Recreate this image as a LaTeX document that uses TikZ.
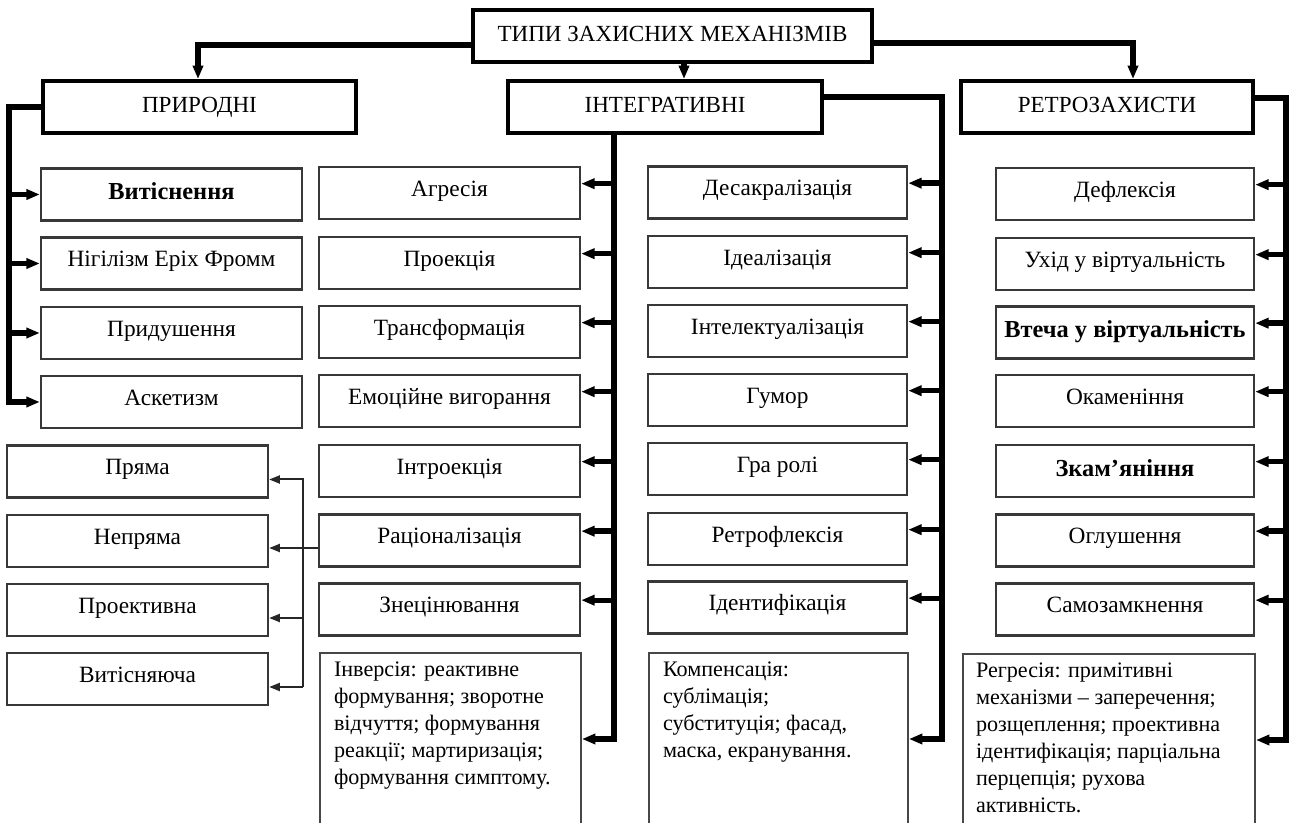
\documentclass[tikz,border=0pt]{standalone}
\usepackage{fontspec}
\setmainfont{Liberation Serif}
\usetikzlibrary{arrows.meta}
\newlength{\pu}\setlength{\pu}{0.75pt}
\tikzset{
  hdr/.style={draw=black, line width=3pt, minimum height=52\pu, inner sep=0pt,
    font=\fontsize{17.3}{19}\selectfont, text height=9pt, text depth=0.8pt},
  box/.style={draw=black!78, line width=1.8pt, minimum height=52\pu, inner sep=0pt,
    font=\fontsize{17.5}{19}\selectfont, text height=7.2pt, text depth=2pt},
  bbox/.style={box, font=\fontsize{18.3}{20}\selectfont\bfseries, text height=9.2pt, text depth=1pt},
  bigbox/.style={draw=black!72, line width=1.5pt, anchor=north west, inner xsep=14\pu, inner ysep=0pt,
    font=\fontsize{16.6}{20.25}\selectfont},
  trunk/.style={line width=4pt, black},
  arr/.style={trunk, -{Triangle[length=10pt,width=7.5pt]}},
  thinarr/.style={line width=1.5pt, black!85, -{Triangle[length=8pt,width=6pt]}},
}
\newcommand{\bigtext}[2]{\parbox[c][180\pu][t]{#1}{\vspace*{9\pu}\raggedright #2}}
\begin{document}
\begin{tikzpicture}[x=0.75pt,y=-0.75pt]
\useasboundingbox (0,0) rectangle (1293,823);
\clip (0,0) rectangle (1293,823);
% headers
\node[hdr, minimum width=399\pu] (top) at (672.5,36) {ТИПИ ЗАХИСНИХ МЕХАНІЗМІВ};
\node[hdr, minimum width=313\pu] (prir) at (199.5,107) {ПРИРОДНІ};
\node[hdr, minimum width=314\pu] (integ) at (665,107) {ІНТЕГРАТИВНІ};
\node[hdr, minimum width=292\pu] (retro) at (1107,107) {РЕТРОЗАХИСТИ};
% column 1
\begin{scope}[every node/.append style={minimum width=261\pu}]
\node[bbox] (vyt) at (171.5,194.5) {Витіснення};
\node[box] (nig) at (171.5,263.5) {Нігілізм Еріх Фромм};
\node[box] (prid) at (171.5,333) {Придушення};
\node[box] (asket) at (171.5,402) {Аскетизм};
% column 0
\node[box] (pryama) at (137.5,471.5) {Пряма};
\node[box] (nepr) at (137.5,541) {Непряма};
\node[box] (proekt) at (137.5,610) {Проективна};
\node[box] (vytisn) at (137.5,679) {Витісняюча};
% column 2
\node[box] (agr) at (449.5,193) {Агресія};
\node[box] (proek) at (449.5,263) {Проекція};
\node[box] (trans) at (449.5,332) {Трансформація};
\node[box] (emoc) at (449.5,401) {Емоційне вигорання};
\node[box] (intro) at (449.5,471) {Інтроекція};
\node[box] (rac) at (449.5,540.5) {Раціоналізація};
\node[box] (znec) at (449.5,609.5) {Знецінювання};
\end{scope}
% column 3
\begin{scope}[every node/.append style={minimum width=259\pu}]
\node[box] (desak) at (777.5,192.5) {Десакралізація};
\node[box] (ideal) at (777.5,262) {Ідеалізація};
\node[box] (intel) at (777.5,331) {Інтелектуалізація};
\node[box] (gumor) at (777.5,400) {Гумор};
\node[box] (gra) at (777.5,469) {Гра ролі};
\node[box] (retrof) at (777.5,539) {Ретрофлексія};
\node[box] (ident) at (777.5,607.5) {Ідентифікація};
\end{scope}
% column 4
\begin{scope}[every node/.append style={minimum width=258\pu}]
\node[box] (defl) at (1125,194) {Дефлексія};
\node[box] (uhid) at (1125,264) {Ухід у віртуальність};
\node[bbox] (vtecha) at (1125,332.5) {Втеча у віртуальність};
\node[box] (okam) at (1125,401) {Окаменіння};
\node[bbox] (zkam) at (1125,471) {Зкам’яніння};
\node[box] (ogl) at (1125,540.5) {Оглушення};
\node[box] (samoz) at (1125,609.5) {Самозамкнення};
\end{scope}
% big boxes
\node[bigbox] (inv) at (319,652) {\bigtext{233\pu}{Інверсія: реактивне\\ формування; зворотне\\ відчуття; формування\\ реакції; мартиризація;\\ формування симптому.}};
\node[bigbox] (komp) at (648,652) {\bigtext{231\pu}{Компенсація:\\ сублімація;\\ субституція; фасад,\\ маска, екранування.}};
\node[bigbox, inner xsep=13\pu] (regr) at (962,653) {\bigtext{266\pu}{Регресія: примітивні\\ механізми – заперечення;\\ розщеплення; проективна\\ ідентифікація; парціальна\\ перцепція; рухова\\ активність.}};
% trunk coordinates
\coordinate (tL) at (9,300);
\coordinate (tI) at (614,400);
\coordinate (tR) at (942,400);
\coordinate (tRR) at (1286,400);
\coordinate (tT) at (303,548);
% top connectors
\draw[arr] ([yshift=-6.75pt]top.west) -| (prir.north -| 198,0);
\draw[arr] ([yshift=-5.25pt]top.east) -| (retro.north -| 1133,0);
\draw[arr] (top.south -| 684,0) -- (integ.north -| 684,0);
% ПРИРОДНІ
\draw[arr] (prir.west) -| (tL) |- (asket.west);
\foreach \n in {vyt,nig,prid} \draw[arr] (\n.west -| tL) -- (\n.west);
% ІНТЕГРАТИВНІ left trunk
\draw[arr] (integ.south -| tI) |- ([yshift=3pt]inv.east);
\foreach \n in {agr,proek,trans,emoc,intro,rac,znec}
  \draw[arr] ([yshift=7pt]\n.east -| tI) -- ([yshift=7pt]\n.east);
% ІНТЕГРАТИВНІ right trunk
\draw[arr] ([yshift=7.5pt]integ.east) -| (tR) |- ([yshift=3pt]komp.east);
\foreach \n in {desak,ideal,intel,gumor,gra,retrof,ident}
  \draw[arr] ([yshift=7pt]\n.east -| tR) -- ([yshift=7pt]\n.east);
% РЕТРОЗАХИСТИ
\draw[arr] ([yshift=6.75pt]retro.east) -| (tRR) |- ([yshift=3pt]regr.east);
\foreach \n in {defl,uhid,vtecha,okam,zkam,ogl,samoz}
  \draw[arr] ([yshift=7pt]\n.east -| tRR) -- ([yshift=7pt]\n.east);
% thin connectors
\draw[thinarr] (rac.west |- tT) -- (nepr.east |- tT);
\draw[thinarr] ([yshift=-6pt]vytisn.east -| tT) |- ([yshift=-6pt]pryama.east);
\draw[thinarr] ([yshift=-6pt]vytisn.east -| tT) -- ([yshift=-6pt]vytisn.east);
\draw[thinarr] ([yshift=-6pt]proekt.east -| tT) -- ([yshift=-6pt]proekt.east);
\end{tikzpicture}
\end{document}
